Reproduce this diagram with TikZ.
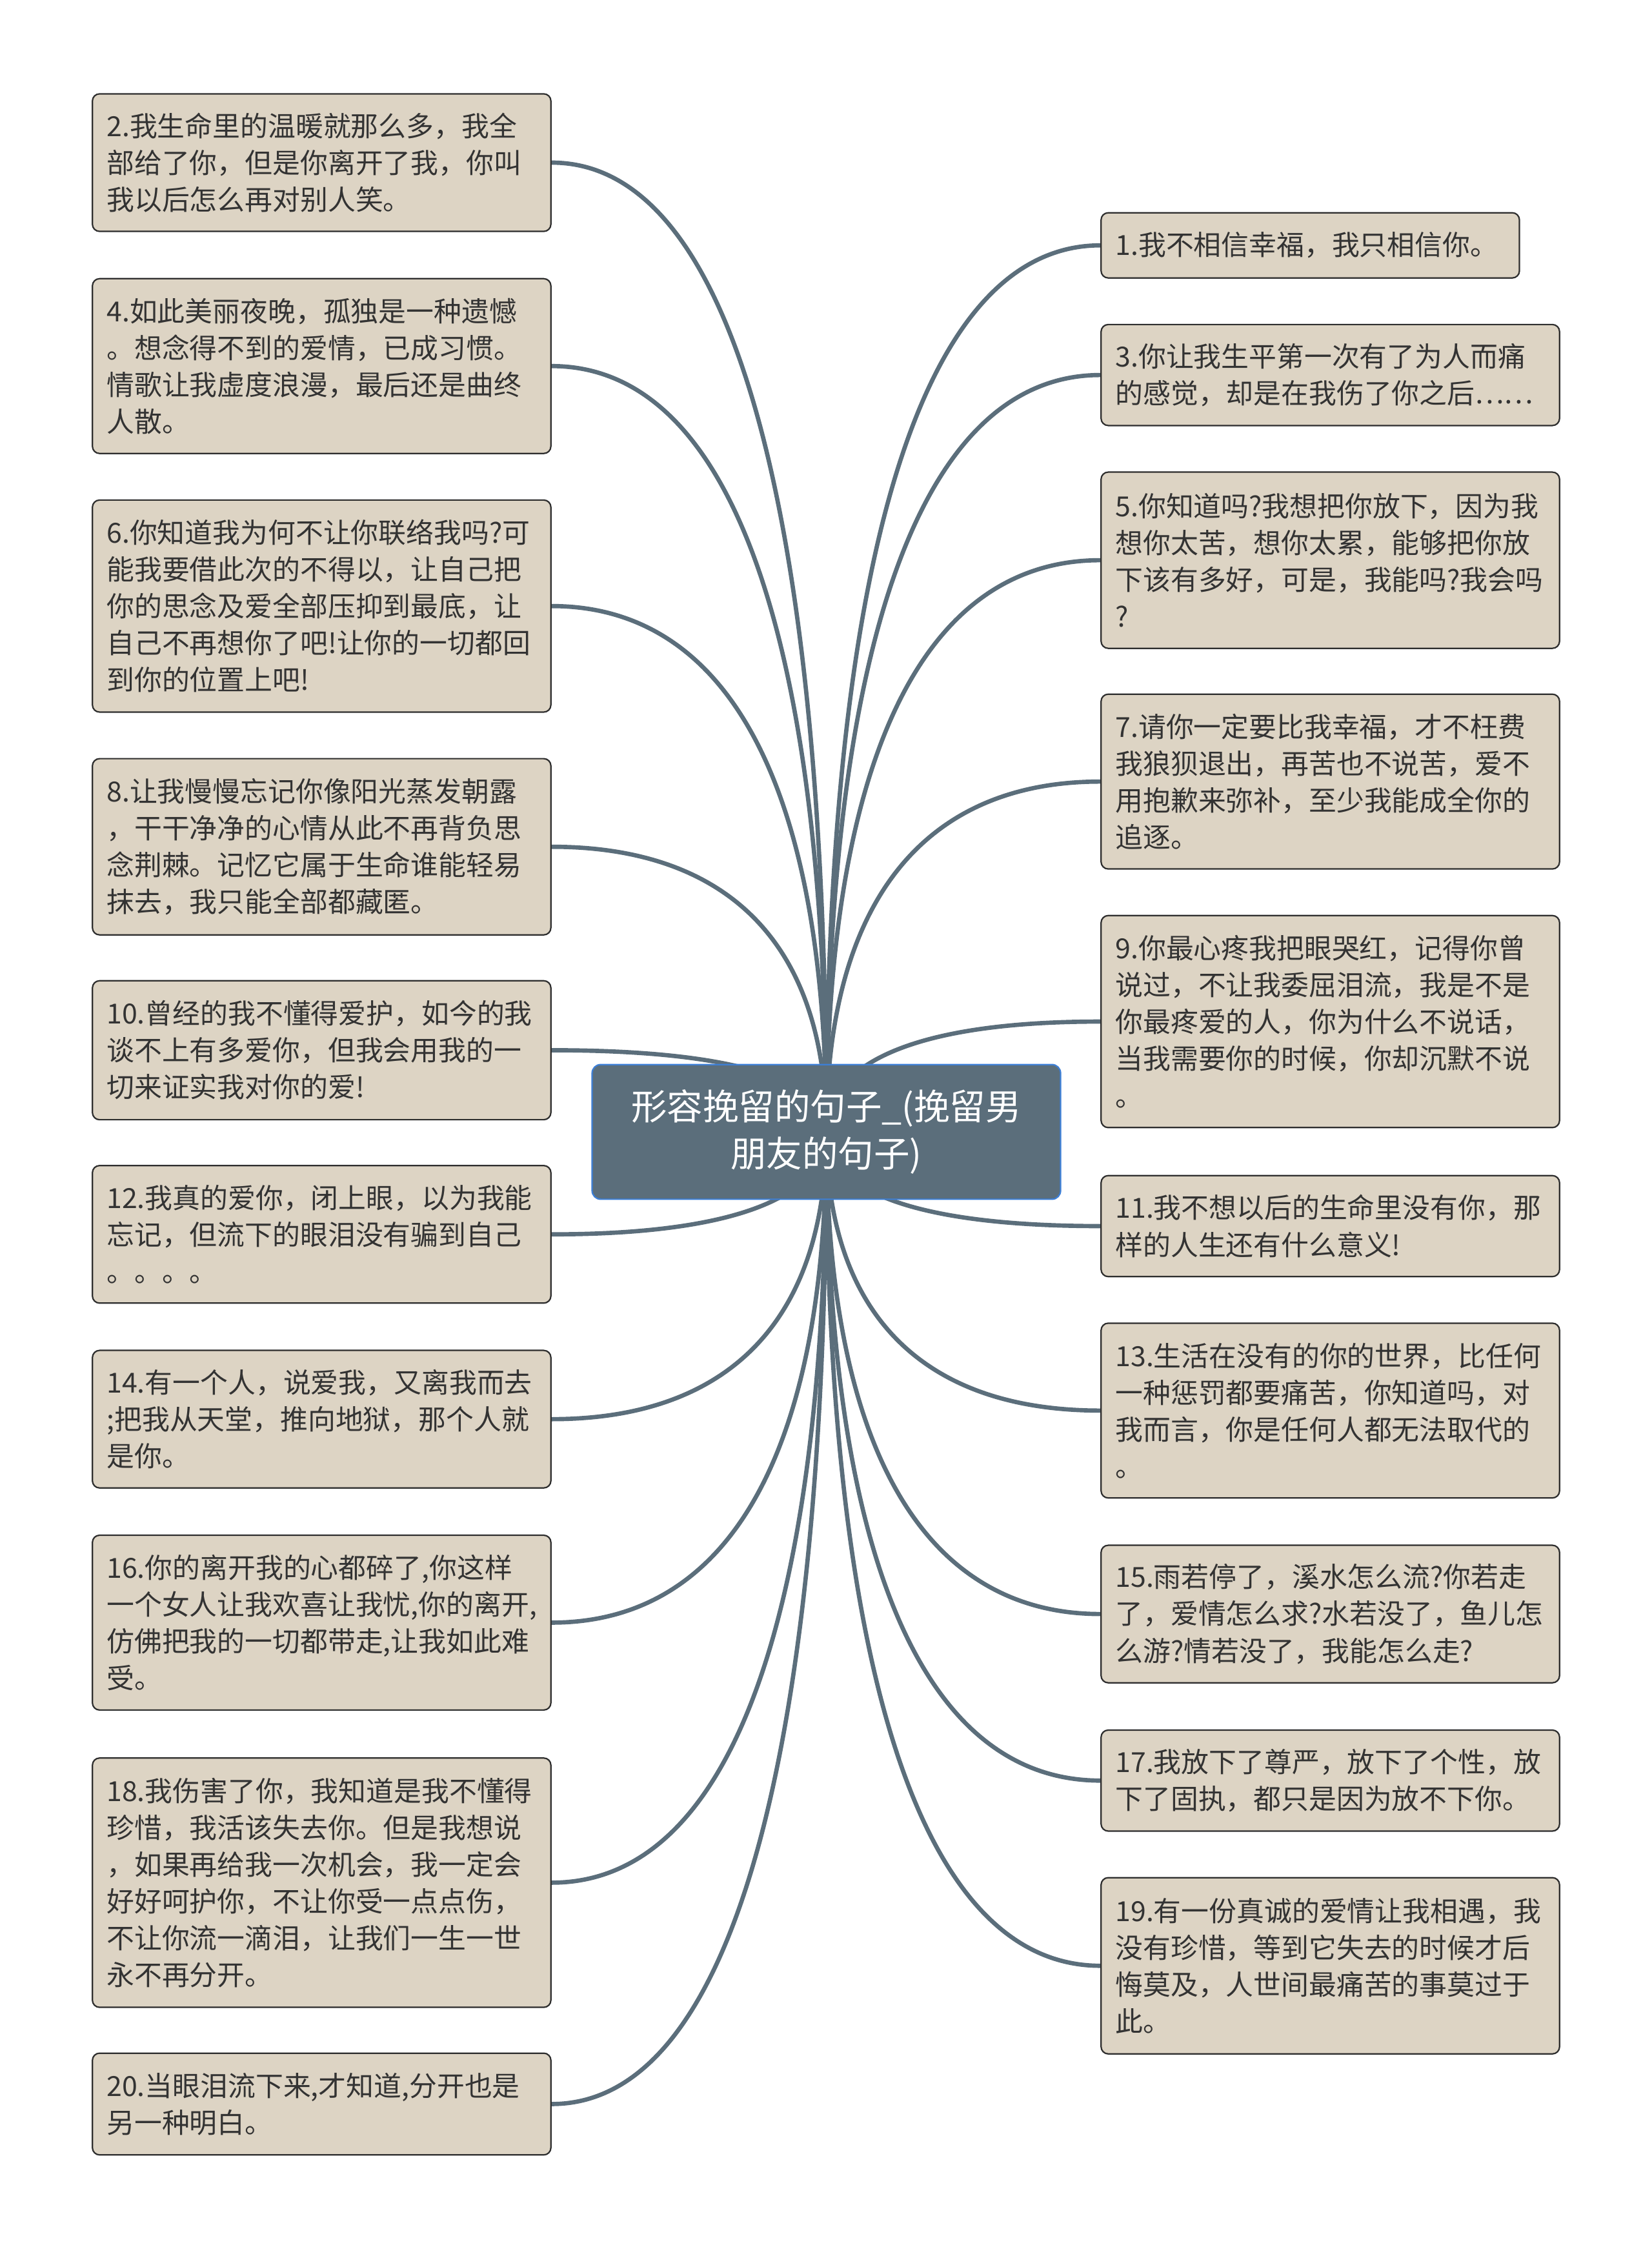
\documentclass[tikz,border=0pt]{standalone}
\usepackage{fontspec}
\setmainfont{Noto Sans CJK SC}
\usepackage{xcolor}
\usetikzlibrary{calc,backgrounds}
\definecolor{leaffill}{HTML}{DDD4C4}
\definecolor{leafline}{HTML}{2E2E2E}
\definecolor{hubfill}{HTML}{5B6E7B}
\definecolor{hubline}{HTML}{3D7FD6}
\definecolor{linkcol}{HTML}{5B6E7B}
\definecolor{inkgray}{HTML}{333333}
\tikzset{
  leaf/.style={rectangle, rounded corners=5pt, draw=leafline, line width=1pt, fill=leaffill,
               anchor=north west, align=left, text width=#1, inner xsep=10pt, inner ysep=0pt,
               text=inkgray, font=\fontsize{19.3pt}{25.7pt}\selectfont},
  leaf/.default={300pt},
  hub/.style={rectangle, rounded corners=6pt, draw=hubline, line width=1pt, fill=hubfill,
              align=center, text=white, minimum width=327pt, minimum height=94pt,
              font=\fontsize{25pt}{33pt}\selectfont},
  link/.style={draw=linkcol, line width=3pt},
}

\begin{document}
\begin{tikzpicture}[x=1pt, y=-1pt]
\useasboundingbox (0,0) rectangle (1153,1568.3);
% root
\node[hub] (root) at (576.75,790) {形容挽留的句子\_(挽留男\\朋友的句子)};
% left column
\node[leaf, minimum height=96pt]  (b2)  at (64,65)     {2.我生命里的温暖就那么多，我全\\部给了你，但是你离开了我，你叫\\我以后怎么再对别人笑。};
\node[leaf, minimum height=122pt] (b4)  at (64,194)    {4.如此美丽夜晚，孤独是一种遗憾\\。想念得不到的爱情，已成习惯。\\情歌让我虚度浪漫，最后还是曲终\\人散。};
\node[leaf, minimum height=148pt] (b6)  at (64,348.5)  {6.你知道我为何不让你联络我吗?可\\能我要借此次的不得以，让自己把\\你的思念及爱全部压抑到最底，让\\自己不再想你了吧!让你的一切都回\\到你的位置上吧!};
\node[leaf, minimum height=123pt] (b8)  at (64,529)    {8.让我慢慢忘记你像阳光蒸发朝露\\，干干净净的心情从此不再背负思\\念荆棘。记忆它属于生命谁能轻易\\抹去，我只能全部都藏匿。};
\node[leaf, minimum height=97pt]  (b10) at (64,684)    {10.曾经的我不懂得爱护，如今的我\\谈不上有多爱你，但我会用我的一\\切来证实我对你的爱!};
\node[leaf, minimum height=96pt]  (b12) at (64,813)    {12.我真的爱你，闭上眼，以为我能\\忘记，但流下的眼泪没有骗到自己\\。。。。};
\node[leaf, minimum height=96pt]  (b14) at (64,942)    {14.有一个人，说爱我，又离我而去\\;把我从天堂，推向地狱，那个人就\\是你。};
\node[leaf, minimum height=122pt] (b16) at (64,1071)   {16.你的离开我的心都碎了,你这样\\一个女人让我欢喜让我忧,你的离开,\\仿佛把我的一切都带走,让我如此难\\受。};
\node[leaf, minimum height=174pt] (b18) at (64,1226.5) {18.我伤害了你，我知道是我不懂得\\珍惜，我活该失去你。但是我想说\\，如果再给我一次机会，我一定会\\好好呵护你，不让你受一点点伤，\\不让你流一滴泪，让我们一生一世\\永不再分开。};
\node[leaf, minimum height=71pt]  (b20) at (64,1432.5) {20.当眼泪流下来,才知道,分开也是\\另一种明白。};
% right column
\node[leaf=272pt, minimum height=45.5pt] (b1) at (768,148) {1.我不相信幸福，我只相信你。};
\node[leaf, minimum height=70.5pt] (b3)  at (768,226)    {3.你让我生平第一次有了为人而痛\\的感觉，却是在我伤了你之后……};
\node[leaf, minimum height=123pt]  (b5)  at (768,329)    {5.你知道吗?我想把你放下，因为我\\想你太苦，想你太累，能够把你放\\下该有多好，可是，我能吗?我会吗\\?};
\node[leaf, minimum height=122pt]  (b7)  at (768,484)    {7.请你一定要比我幸福，才不枉费\\我狼狈退出，再苦也不说苦，爱不\\用抱歉来弥补，至少我能成全你的\\追逐。};
\node[leaf, minimum height=148pt]  (b9)  at (768,638.5)  {9.你最心疼我把眼哭红，记得你曾\\说过，不让我委屈泪流，我是不是\\你最疼爱的人，你为什么不说话，\\当我需要你的时候，你却沉默不说\\。};
\node[leaf, minimum height=70.5pt] (b11) at (768,820)    {11.我不想以后的生命里没有你，那\\样的人生还有什么意义!};
\node[leaf, minimum height=122pt]  (b13) at (768,923)    {13.生活在没有的你的世界，比任何\\一种惩罚都要痛苦，你知道吗，对\\我而言，你是任何人都无法取代的\\。};
\node[leaf, minimum height=96pt]   (b15) at (768,1078)   {15.雨若停了，溪水怎么流?你若走\\了，爱情怎么求?水若没了，鱼儿怎\\么游?情若没了，我能怎么走?};
\node[leaf, minimum height=70.5pt] (b17) at (768,1207)   {17.我放下了尊严，放下了个性，放\\下了固执，都只是因为放不下你。};
\node[leaf, minimum height=123pt]  (b19) at (768,1310)   {19.有一份真诚的爱情让我相遇，我\\没有珍惜，等到它失去的时候才后\\悔莫及，人世间最痛苦的事莫过于\\此。};
% links from the root, under the boxes
\begin{scope}[on background layer]
\fill[white] (0,0) rectangle (1153,1568.3);
\foreach \k in {2,4,...,20}
  \draw[link] (root.center) .. controls ($(root.center)!0.65!(root.center |- b\k.east)$)
    and ($(b\k.east)!0.65!(root.center |- b\k.east)$) .. (b\k.east);
\foreach \k in {1,3,...,19}
  \draw[link] (root.center) .. controls ($(root.center)!0.65!(root.center |- b\k.west)$)
    and ($(b\k.west)!0.65!(root.center |- b\k.west)$) .. (b\k.west);
\end{scope}
\end{tikzpicture}
\end{document}
